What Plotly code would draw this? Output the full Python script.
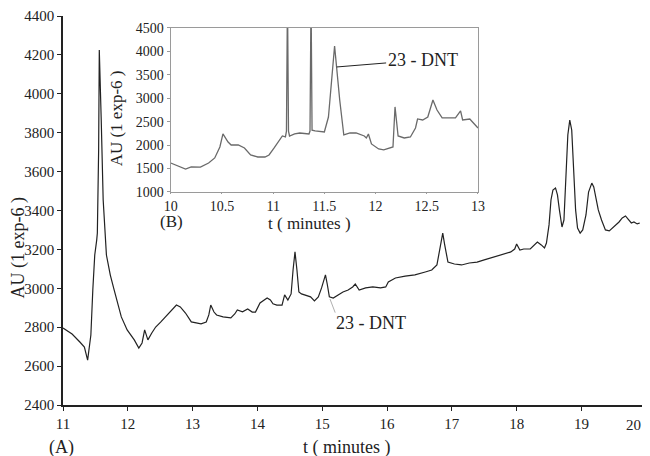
import plotly.graph_objects as go

# ---- main chromatogram (A) ----
main_t = [11.00, 11.14, 11.26, 11.33, 11.38, 11.43, 11.46, 11.49, 11.52, 11.53, 11.55, 11.56,
          11.59, 11.62, 11.67, 11.73, 11.79, 11.85, 11.90, 11.99, 12.10, 12.17, 12.22, 12.26,
          12.31, 12.37, 12.43, 12.51, 12.58, 12.66, 12.75, 12.81, 12.89, 12.98, 13.05, 13.13,
          13.21, 13.25, 13.28, 13.33, 13.37, 13.47, 13.59, 13.65, 13.69, 13.77, 13.85, 13.92,
          13.97, 14.04, 14.15, 14.20, 14.24, 14.30, 14.38, 14.42, 14.47, 14.52, 14.55, 14.58,
          14.61, 14.64, 14.68, 14.76, 14.82, 14.88, 14.94, 14.99, 15.02, 15.05, 15.08, 15.11,
          15.17, 15.25, 15.32, 15.40, 15.47, 15.51, 15.57, 15.67, 15.78, 15.90, 15.98, 16.02,
          16.08, 16.13, 16.28, 16.43, 16.59, 16.69, 16.77, 16.81, 16.86, 16.89, 16.94, 17.04,
          17.15, 17.27, 17.39, 17.50, 17.65, 17.77, 17.91, 17.97, 18.00, 18.05, 18.11, 18.21,
          18.28, 18.32, 18.38, 18.43, 18.46, 18.50, 18.53, 18.56, 18.60, 18.63, 18.66, 18.70,
          18.73, 18.76, 18.79, 18.82, 18.85, 18.88, 18.91, 18.94, 18.98, 19.02, 19.07, 19.11,
          19.16, 19.19, 19.22, 19.26, 19.31, 19.37, 19.43, 19.48, 19.54, 19.58, 19.63, 19.68,
          19.72, 19.77, 19.81, 19.86, 19.90]
main_au = [2796, 2765, 2724, 2698, 2631, 2760, 2991, 3171, 3248, 3284, 3711, 4225,
           3865, 3454, 3171, 3068, 2991, 2914, 2853, 2786, 2735, 2693, 2719, 2786,
           2735, 2770, 2801, 2827, 2853, 2878, 2914, 2904, 2873, 2827, 2822, 2817,
           2827, 2863, 2914, 2878, 2863, 2853, 2848, 2868, 2889, 2879, 2894, 2878,
           2878, 2925, 2950, 2940, 2920, 2914, 2914, 2966, 2940, 2971, 3094, 3187,
           3094, 2981, 2971, 2961, 2956, 2935, 2956, 3002, 3043, 3069, 3017, 2956,
           2950, 2966, 2981, 2991, 3007, 3022, 2991, 3002, 3007, 3002, 3007, 3033,
           3043, 3053, 3063, 3069, 3084, 3094, 3120, 3197, 3284, 3223, 3135, 3125,
           3120, 3130, 3135, 3146, 3161, 3176, 3187, 3202, 3228, 3197, 3202, 3202,
           3228, 3238, 3223, 3207, 3233, 3326, 3454, 3505, 3516, 3480, 3403, 3315,
           3351, 3557, 3788, 3865, 3814, 3608, 3403, 3310, 3284, 3300, 3377, 3495,
           3541, 3521, 3464, 3403, 3351, 3300, 3295, 3310, 3331, 3341, 3362, 3372,
           3356, 3336, 3341, 3331, 3336]

# ---- inset chromatogram (B) ----
inset_t = [10.00, 10.08, 10.145, 10.20, 10.29, 10.37, 10.43, 10.48, 10.51, 10.56, 10.59, 10.66,
           10.72, 10.78, 10.85, 10.92, 10.96, 11.01, 11.06, 11.09, 11.12, 11.13, 11.14, 11.15,
           11.16, 11.21, 11.26, 11.35, 11.36, 11.37, 11.38, 11.41, 11.50, 11.54, 11.60, 11.65,
           11.69, 11.75, 11.81, 11.89, 11.91, 11.93, 11.96, 12.03, 12.08, 12.15, 12.17, 12.19,
           12.22, 12.28, 12.34, 12.39, 12.41, 12.46, 12.51, 12.56, 12.60, 12.65, 12.78, 12.83,
           12.85, 12.92, 13.00]
inset_au = [1619, 1555, 1490, 1534, 1530, 1619, 1726, 1961, 2238, 2067, 2003, 2003,
            1939, 1790, 1747, 1747, 1790, 1939, 2110, 2195, 2174, 2300, 5200, 2300,
            2195, 2238, 2259, 2238, 2300, 5200, 2320, 2302, 2281, 2600, 4116, 2964,
            2217, 2259, 2259, 2195, 2153, 2238, 2025, 1918, 1897, 1939, 1961, 2815,
            2195, 2153, 2174, 2366, 2558, 2537, 2600, 2964, 2750, 2580, 2580, 2729,
            2537, 2558, 2366]

main_xticks = [11, 12, 13, 14, 15, 16, 17, 18, 19]
main_yticks = [2400, 2600, 2800, 3000, 3200, 3400, 3600, 3800, 4000, 4200, 4400]
inset_xticks = [10, 10.5, 11, 11.5, 12, 12.5, 13]
inset_xlabels = ["10", "10.5", "11", "11.5", "12", "12.5", "13"]
inset_yticks = [1000, 1500, 2000, 2500, 3000, 3500, 4000, 4500]

FONT = "Liberation Serif, Times New Roman, serif"

fig = go.Figure()
fig.add_trace(go.Scatter(x=main_t, y=main_au, mode="lines",
                         line=dict(color="#222222", width=1.2),
                         xaxis="x", yaxis="y", showlegend=False))
fig.add_trace(go.Scatter(x=inset_t, y=inset_au, mode="lines",
                         line=dict(color="#6a6a6a", width=1.3),
                         xaxis="x2", yaxis="y2", showlegend=False))

# inset geometry (paper fractions)
ix0, ix1 = 0.1857, 0.7155
iy0, iy1 = 0.5476, 0.9692

# page body has an 8px default margin: figure is 642x448 so it fills the 650x456 window
fig.update_layout(
    width=642, height=448,
    margin=dict(l=55, r=0, t=8, b=51, pad=0),
    paper_bgcolor="white", plot_bgcolor="white",
    font=dict(family=FONT, color="#222222", size=15),
    xaxis=dict(domain=[0, 1], range=[11, 19.95], tickvals=main_xticks,
               showline=True, linecolor="#222222", linewidth=1.5,
               ticks="outside", ticklen=4, tickcolor="#222222",
               showgrid=False, zeroline=False, tickfont=dict(size=15)),
    yaxis=dict(domain=[0, 1], range=[2400, 4400], tickvals=main_yticks,
               showline=True, linecolor="#222222", linewidth=1.5,
               ticks="outside", ticklen=4, tickcolor="#222222",
               showgrid=False, zeroline=False, tickfont=dict(size=15)),
    xaxis2=dict(domain=[ix0, ix1], range=[10, 13], anchor="y2",
                tickvals=inset_xticks, ticktext=inset_xlabels,
                showline=True, mirror=True, linecolor="#9a9a9a", linewidth=1.2,
                ticks="outside", ticklen=1, tickcolor="#9a9a9a",
                showgrid=False, zeroline=False, tickfont=dict(size=14)),
    yaxis2=dict(domain=[iy0, iy1], range=[1000, 4500], anchor="x2",
                tickvals=inset_yticks,
                showline=True, mirror=True, linecolor="#9a9a9a", linewidth=1.2,
                ticks="outside", ticklen=3, tickcolor="#9a9a9a",
                showgrid=False, zeroline=False, tickfont=dict(size=14)),
)

ann = []
# main axis labels
ann.append(dict(text="t ( minutes )", xref="paper", yref="paper", x=0.489, y=-0.108,
                showarrow=False, font=dict(size=18), xanchor="center", yanchor="middle"))
ann.append(dict(text="(A)", xref="paper", yref="paper", x=-0.002, y=-0.110,
                showarrow=False, font=dict(size=18), xanchor="center", yanchor="middle"))
ann.append(dict(text="AU (1 exp-6 )", xref="paper", yref="paper", x=-0.0767, y=0.4036,
                showarrow=False, font=dict(size=18), textangle=-90,
                xanchor="center", yanchor="middle"))
ann.append(dict(text="20", xref="paper", yref="paper", x=1.0, y=-0.052,
                showarrow=False, font=dict(size=15), xanchor="right", yanchor="middle"))
# main 23-DNT label
ann.append(dict(text="23 - DNT", xref="x", yref="y", x=15.75, y=2822,
                showarrow=False, font=dict(size=18), xanchor="center", yanchor="middle"))
# inset labels
ann.append(dict(text="(B)", xref="paper", yref="paper", x=0.1874, y=0.4705,
                showarrow=False, font=dict(size=17), xanchor="center", yanchor="middle"))
ann.append(dict(text="t ( minutes )", xref="paper", yref="paper", x=0.4242, y=0.4653,
                showarrow=False, font=dict(size=17), xanchor="center", yanchor="middle"))
ann.append(dict(text="AU (1 exp-6 )", xref="paper", yref="paper", x=0.0937, y=0.7378,
                showarrow=False, font=dict(size=17), textangle=-90,
                xanchor="center", yanchor="middle"))
ann.append(dict(text="23 - DNT", xref="x2", yref="y2", x=11.62, y=3668,
                ax=86, ay=-7, showarrow=True, arrowhead=0, arrowwidth=1,
                arrowcolor="#222222", standoff=0, font=dict(size=18)))
fig.update_layout(annotations=ann)

# thin grey pointer for the main 23-DNT peak
fig.add_shape(type="line", xref="x", yref="y", x0=15.12, y0=2945, x1=15.2, y1=2875,
              line=dict(color="#b0b0b0", width=1))

fig.write_html("out.html")
